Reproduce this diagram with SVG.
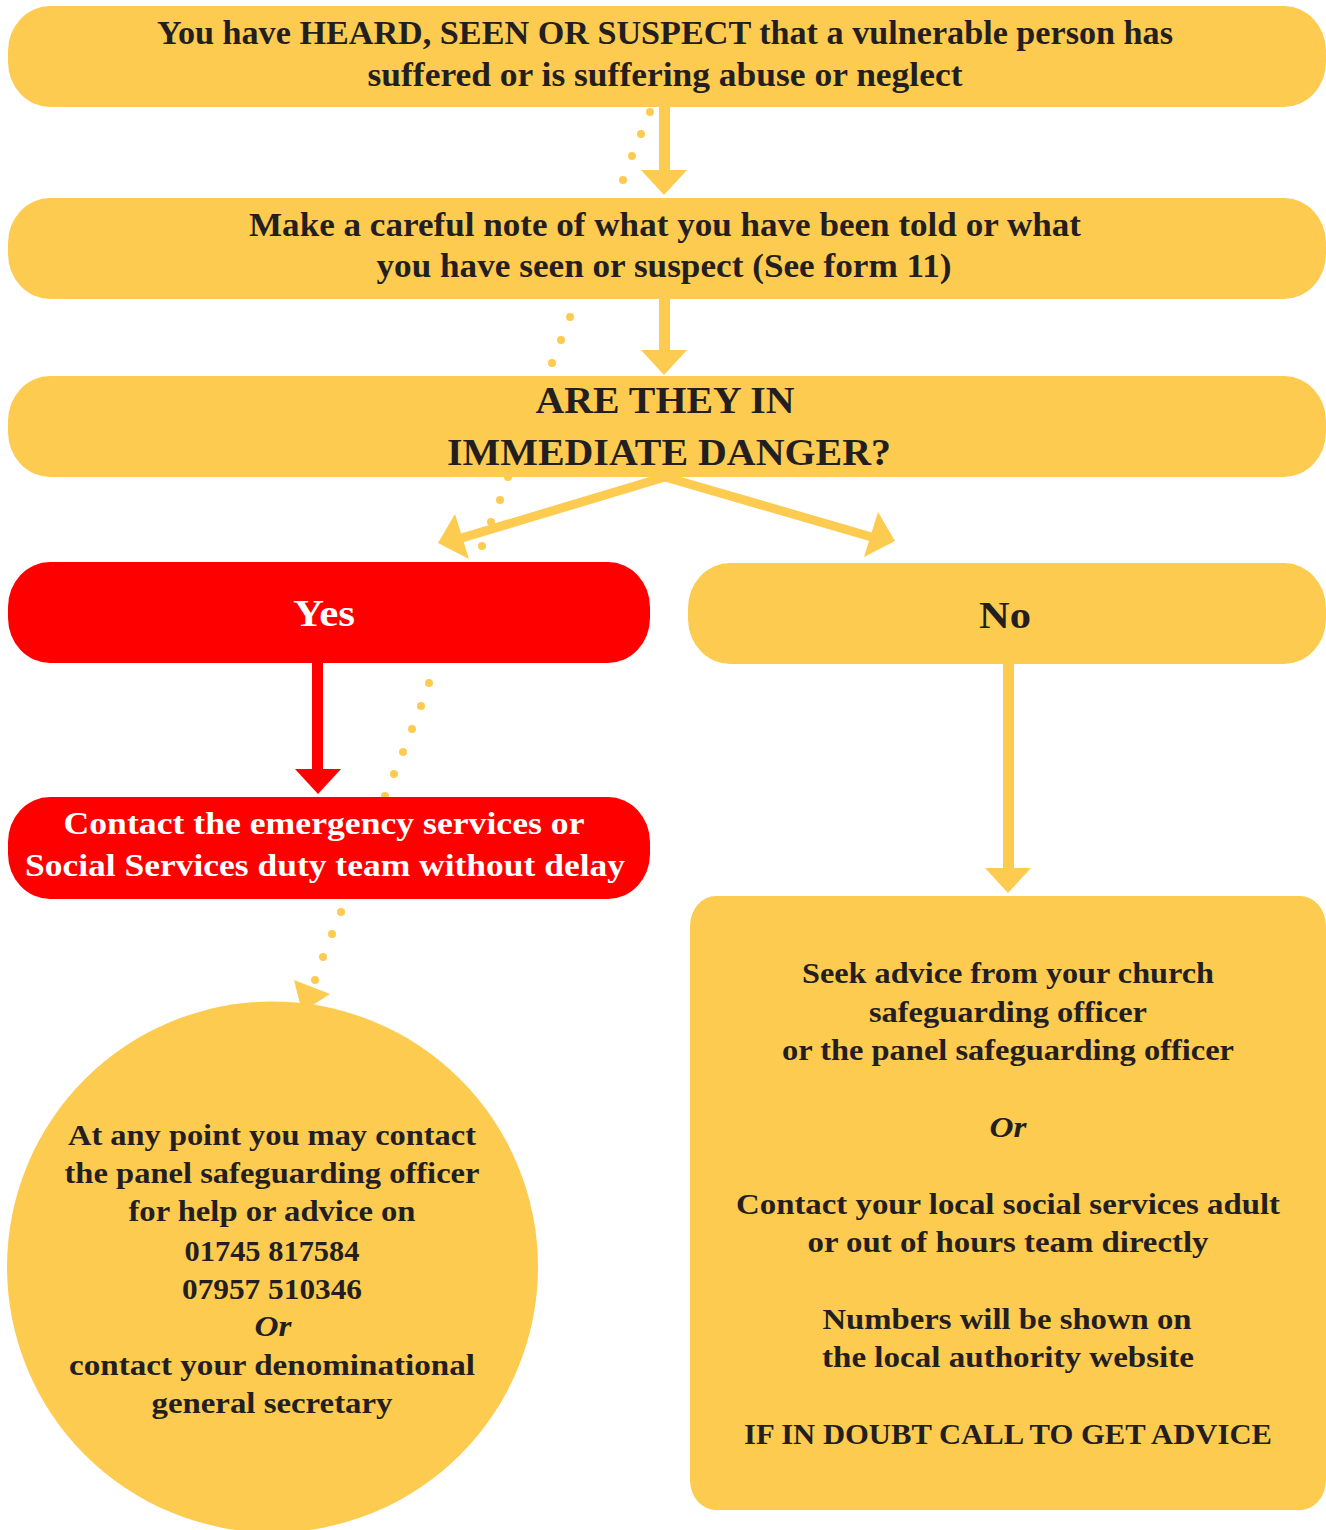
<svg xmlns="http://www.w3.org/2000/svg" width="1326" height="1530" viewBox="0 0 1326 1530">
<style>
.y{fill:#FDCB50}
.r{fill:#FF0000}
.t{font-family:"Liberation Serif","Times New Roman",serif;font-weight:bold;fill:#231F20;text-anchor:middle}
.w{fill:#FFFFFF}
.i{font-style:italic}
.dot{fill:#FDCB50}
</style>
<rect width="1326" height="1530" fill="#FFFFFF"/>
<g id="connectors">
  <rect class="y" x="659" y="106" width="11" height="66"/>
  <polygon class="y" points="641,170 687,170 664,195"/>
  <rect class="y" x="659" y="298" width="11" height="54"/>
  <polygon class="y" points="641,350 687,350 664,375"/>
  <line x1="665" y1="477" x2="455" y2="540" stroke="#FDCB50" stroke-width="9"/>
  <polygon class="y" points="438,543 455,514 469,559"/>
  <line x1="665" y1="477" x2="875" y2="538" stroke="#FDCB50" stroke-width="9"/>
  <polygon class="y" points="895,541 878,512 864,557"/>
  <rect class="r" x="312" y="662" width="11" height="110"/>
  <polygon class="r" points="295,769 341,769 318,794"/>
  <rect class="y" x="1003" y="663" width="11" height="207"/>
  <polygon class="y" points="985,868 1031,868 1008,893"/>
  <g class="dot">
    <circle cx="650" cy="112" r="4"/><circle cx="641" cy="134" r="4"/><circle cx="632" cy="156" r="4"/><circle cx="623" cy="180" r="4"/>
    <circle cx="570" cy="317" r="4"/><circle cx="561" cy="340" r="4"/><circle cx="552" cy="363" r="4"/>
    <circle cx="508" cy="477" r="4"/><circle cx="500" cy="500" r="4"/><circle cx="491" cy="522" r="4"/><circle cx="482" cy="546" r="4"/>
    <circle cx="429" cy="683" r="4"/><circle cx="421" cy="706" r="4"/><circle cx="412" cy="729" r="4"/><circle cx="403" cy="752" r="4"/><circle cx="394" cy="774" r="4"/><circle cx="385" cy="796" r="4"/>
    <circle cx="341" cy="912" r="4"/><circle cx="332" cy="934" r="4"/><circle cx="323" cy="957" r="4"/><circle cx="315" cy="980" r="4"/>
  </g>
  <polygon class="y" points="294,980 330,994 302,1012"/>
</g>
<g id="n1">
  <rect class="y" x="8" y="6" width="1318" height="101" rx="42" ry="45"/>
  <text class="t" font-size="33"><tspan x="665" y="44" textLength="1016" lengthAdjust="spacingAndGlyphs">You have HEARD, SEEN OR SUSPECT that a vulnerable person has</tspan><tspan x="665" y="86" textLength="595" lengthAdjust="spacingAndGlyphs">suffered or is suffering abuse or neglect</tspan></text>
</g>
<g id="n2">
  <rect class="y" x="8" y="198" width="1318" height="101" rx="42" ry="45"/>
  <text class="t" font-size="33"><tspan x="665" y="236" textLength="832" lengthAdjust="spacingAndGlyphs">Make a careful note of what you have been told or what</tspan><tspan x="664" y="277" textLength="575" lengthAdjust="spacingAndGlyphs">you have seen or suspect (See form 11)</tspan></text>
</g>
<g id="n3">
  <rect class="y" x="8" y="376" width="1318" height="101" rx="42" ry="45"/>
  <text class="t" font-size="38"><tspan x="665" y="413" textLength="259" lengthAdjust="spacingAndGlyphs">ARE THEY IN</tspan><tspan x="669" y="465" textLength="444" lengthAdjust="spacingAndGlyphs">IMMEDIATE DANGER?</tspan></text>
</g>
<g id="yes">
  <rect class="r" x="8" y="562" width="642" height="101" rx="42" ry="45"/>
  <text class="t w" x="324" y="626" font-size="37" textLength="62" lengthAdjust="spacingAndGlyphs">Yes</text>
</g>
<g id="no">
  <rect class="y" x="688" y="563" width="638" height="101" rx="42" ry="45"/>
  <text class="t" x="1005" y="628" font-size="37" textLength="52" lengthAdjust="spacingAndGlyphs">No</text>
</g>
<g id="emergency">
  <rect class="r" x="8" y="797" width="642" height="102" rx="42" ry="45"/>
  <text class="t w" font-size="31"><tspan x="324" y="834" textLength="521" lengthAdjust="spacingAndGlyphs">Contact the emergency services or</tspan><tspan x="325" y="876" textLength="600" lengthAdjust="spacingAndGlyphs">Social Services duty team without delay</tspan></text>
</g>
<g id="circle">
  <circle class="y" cx="272.5" cy="1267" r="265.5"/>
  <text class="t" font-size="30"><tspan x="272" y="1145" textLength="408" lengthAdjust="spacingAndGlyphs">At any point you may contact</tspan><tspan x="272" y="1183" textLength="415" lengthAdjust="spacingAndGlyphs">the panel safeguarding officer</tspan><tspan x="272" y="1221" textLength="287" lengthAdjust="spacingAndGlyphs">for help or advice on</tspan><tspan x="272" y="1261" textLength="175" lengthAdjust="spacingAndGlyphs">01745 817584</tspan><tspan x="272" y="1299" textLength="180" lengthAdjust="spacingAndGlyphs">07957 510346</tspan><tspan x="273" y="1336" class="i" textLength="37" lengthAdjust="spacingAndGlyphs">Or</tspan><tspan x="272" y="1375" textLength="406" lengthAdjust="spacingAndGlyphs">contact your denominational</tspan><tspan x="272" y="1413" textLength="241" lengthAdjust="spacingAndGlyphs">general secretary</tspan></text>
</g>
<g id="advice">
  <rect class="y" x="690" y="896" width="636" height="614" rx="26" ry="30"/>
  <text class="t" font-size="30"><tspan x="1008" y="983" textLength="412" lengthAdjust="spacingAndGlyphs">Seek advice from your church</tspan><tspan x="1008" y="1022" textLength="278" lengthAdjust="spacingAndGlyphs">safeguarding officer</tspan><tspan x="1008" y="1060" textLength="452" lengthAdjust="spacingAndGlyphs">or the panel safeguarding officer</tspan><tspan x="1008" y="1137" class="i" textLength="37" lengthAdjust="spacingAndGlyphs">Or</tspan><tspan x="1008" y="1214" textLength="544" lengthAdjust="spacingAndGlyphs">Contact your local social services adult</tspan><tspan x="1008" y="1252" textLength="401" lengthAdjust="spacingAndGlyphs">or out of hours team directly</tspan><tspan x="1007" y="1329" textLength="369" lengthAdjust="spacingAndGlyphs">Numbers will be shown on</tspan><tspan x="1008" y="1367" textLength="372" lengthAdjust="spacingAndGlyphs">the local authority website</tspan><tspan x="1008" y="1444" textLength="528" lengthAdjust="spacingAndGlyphs">IF IN DOUBT CALL TO GET ADVICE</tspan></text>
</g>
</svg>
